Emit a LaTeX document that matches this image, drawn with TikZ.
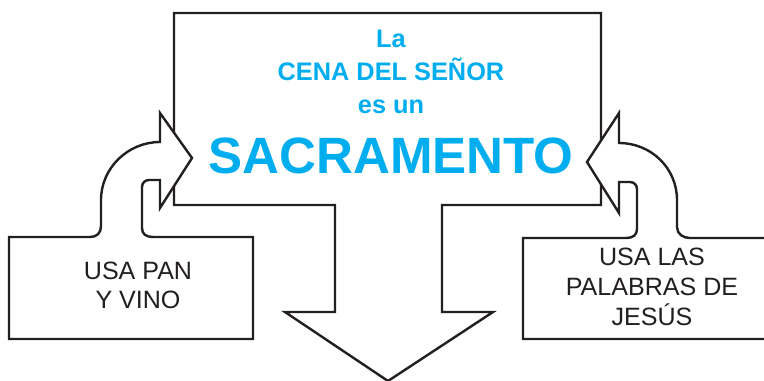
\documentclass[tikz,border=0pt]{standalone}
\usepackage{fontspec}
\setmainfont{Liberation Sans}
\definecolor{titleblue}{HTML}{00AEEF}
\definecolor{ink}{HTML}{231F20}
\begin{document}
\begin{tikzpicture}[x=0.75pt,y=-0.75pt,
  outline/.style={draw=ink,line width=1.8pt,line join=miter,fill=white},
  title/.style={text=titleblue,font=\bfseries\fontsize{19}{22}\selectfont,inner sep=0pt,anchor=base},
  big/.style={text=titleblue,font=\bfseries\fontsize{38.3}{44}\selectfont,inner sep=0pt,anchor=base},
  lbl/.style={text=ink,font=\fontsize{18.8}{22}\selectfont,inner sep=0pt,anchor=base}]
\clip (0,0) rectangle (764,380);
\fill[white] (0,0) rectangle (764,380);
% main box with downward arrow
\draw[outline] (174,13) -- (601,13) -- (601,205) -- (442,205) -- (442,312) -- (493,312)
  -- (388,381) -- (285,312) -- (335,312) -- (335,205) -- (174,205) -- cycle;
% left box with curved arrow
\draw[outline] (153,237) -- (253,237) -- (253,339) -- (9,339) -- (9,237) -- (90,237)
  .. controls (97,237) and (101,233) .. (101,226) -- (101,200)
  .. controls (101,168) and (128,142) .. (160,142) -- (160,113) -- (192,158) -- (160,208)
  -- (160,180) -- (149,180) .. controls (145,180) and (142,183) .. (142,187)
  -- (142,228) .. controls (142,234) and (146,237) .. (153,237) -- cycle;
% right box with curved arrow
\draw[outline] (626,238) -- (523,238) -- (523,339) -- (775,339) -- (775,238) -- (690,238)
  .. controls (683,238) and (677,234) .. (677,227) -- (677,200)
  .. controls (677,168) and (651,143) .. (619,143) -- (619,113) -- (587,162) -- (619,213)
  -- (619,182) -- (630,182) .. controls (634,182) and (637,185) .. (637,189)
  -- (637,229) .. controls (637,235) and (633,238) .. (626,238) -- cycle;
% texts
\node[title] (t1) at (391,47) {La};
\node[title] (t2) at (391,80) {CENA DEL SEÑOR};
\node[title] (t3) at (391,113) {es un};
\node[big] (t4) at (391,173) {SACRAMENTO};
\node[lbl] (l1) at (138,279) {USA PAN};
\node[lbl] (l2) at (138,308) {Y VINO};
\node[lbl] (r1) at (652,265) {USA LAS};
\node[lbl] (r2) at (652,295) {PALABRAS DE};
\node[lbl] (r3) at (652,325) {JESÚS};
\end{tikzpicture}
\end{document}
